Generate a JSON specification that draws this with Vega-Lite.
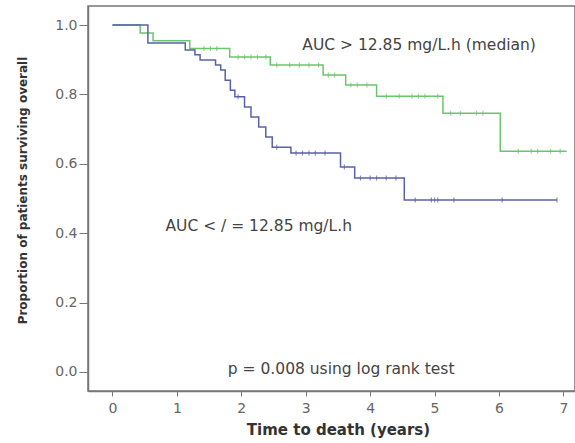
{
  "$schema": "https://vega.github.io/schema/vega-lite/v6.json",
  "autosize": {"type": "none"},
  "padding": {"left": 88, "top": 6, "right": 0, "bottom": 52},
  "width": 487,
  "height": 385,
  "background": "white",
  "config": {
    "view": {"stroke": "#777", "strokeWidth": 1.5},
    "font": "DejaVu Sans"
  },
  "datasets": {
    "curves": [
      {"group": "high", "t": 0, "s": 1.0},
      {"group": "high", "t": 0.43, "s": 0.977},
      {"group": "high", "t": 0.63, "s": 0.955},
      {"group": "high", "t": 1.2, "s": 0.932},
      {"group": "high", "t": 1.82, "s": 0.908},
      {"group": "high", "t": 2.45, "s": 0.885},
      {"group": "high", "t": 3.27, "s": 0.856},
      {"group": "high", "t": 3.62, "s": 0.827},
      {"group": "high", "t": 4.1, "s": 0.795},
      {"group": "high", "t": 5.13, "s": 0.746},
      {"group": "high", "t": 6.02, "s": 0.636},
      {"group": "high", "t": 7.05, "s": 0.636},
      {"group": "low", "t": 0, "s": 1.0},
      {"group": "low", "t": 0.55, "s": 0.948},
      {"group": "low", "t": 1.13, "s": 0.928},
      {"group": "low", "t": 1.28, "s": 0.914},
      {"group": "low", "t": 1.36, "s": 0.899},
      {"group": "low", "t": 1.6, "s": 0.885},
      {"group": "low", "t": 1.68, "s": 0.87},
      {"group": "low", "t": 1.75, "s": 0.841},
      {"group": "low", "t": 1.83, "s": 0.812},
      {"group": "low", "t": 1.9, "s": 0.793},
      {"group": "low", "t": 2.05, "s": 0.764},
      {"group": "low", "t": 2.15, "s": 0.735},
      {"group": "low", "t": 2.27, "s": 0.706},
      {"group": "low", "t": 2.38, "s": 0.677},
      {"group": "low", "t": 2.48, "s": 0.648},
      {"group": "low", "t": 2.77, "s": 0.631},
      {"group": "low", "t": 3.54, "s": 0.591},
      {"group": "low", "t": 3.76, "s": 0.559},
      {"group": "low", "t": 4.53, "s": 0.496},
      {"group": "low", "t": 6.9, "s": 0.496}
    ],
    "censor": [
      {"group": "high", "t": 1.42, "s": 0.932},
      {"group": "high", "t": 1.52, "s": 0.932},
      {"group": "high", "t": 1.62, "s": 0.932},
      {"group": "high", "t": 1.95, "s": 0.908},
      {"group": "high", "t": 2.05, "s": 0.908},
      {"group": "high", "t": 2.15, "s": 0.908},
      {"group": "high", "t": 2.25, "s": 0.908},
      {"group": "high", "t": 2.38, "s": 0.908},
      {"group": "high", "t": 2.55, "s": 0.885},
      {"group": "high", "t": 2.75, "s": 0.885},
      {"group": "high", "t": 2.9, "s": 0.885},
      {"group": "high", "t": 3.05, "s": 0.885},
      {"group": "high", "t": 3.2, "s": 0.885},
      {"group": "high", "t": 3.35, "s": 0.856},
      {"group": "high", "t": 3.45, "s": 0.856},
      {"group": "high", "t": 3.7, "s": 0.827},
      {"group": "high", "t": 3.8, "s": 0.827},
      {"group": "high", "t": 3.95, "s": 0.827},
      {"group": "high", "t": 4.25, "s": 0.795},
      {"group": "high", "t": 4.45, "s": 0.795},
      {"group": "high", "t": 4.65, "s": 0.795},
      {"group": "high", "t": 4.75, "s": 0.795},
      {"group": "high", "t": 4.85, "s": 0.795},
      {"group": "high", "t": 5.05, "s": 0.795},
      {"group": "high", "t": 5.25, "s": 0.746},
      {"group": "high", "t": 5.4, "s": 0.746},
      {"group": "high", "t": 5.65, "s": 0.746},
      {"group": "high", "t": 5.75, "s": 0.746},
      {"group": "high", "t": 6.3, "s": 0.636},
      {"group": "high", "t": 6.5, "s": 0.636},
      {"group": "high", "t": 6.6, "s": 0.636},
      {"group": "high", "t": 6.8, "s": 0.636},
      {"group": "high", "t": 6.95, "s": 0.636},
      {"group": "low", "t": 1.95, "s": 0.793},
      {"group": "low", "t": 2.55, "s": 0.648},
      {"group": "low", "t": 2.85, "s": 0.631},
      {"group": "low", "t": 2.95, "s": 0.631},
      {"group": "low", "t": 3.05, "s": 0.631},
      {"group": "low", "t": 3.15, "s": 0.631},
      {"group": "low", "t": 3.3, "s": 0.631},
      {"group": "low", "t": 3.6, "s": 0.591},
      {"group": "low", "t": 3.85, "s": 0.559},
      {"group": "low", "t": 4.0, "s": 0.559},
      {"group": "low", "t": 4.1, "s": 0.559},
      {"group": "low", "t": 4.25, "s": 0.559},
      {"group": "low", "t": 4.4, "s": 0.559},
      {"group": "low", "t": 4.7, "s": 0.496},
      {"group": "low", "t": 4.95, "s": 0.496},
      {"group": "low", "t": 5.0, "s": 0.496},
      {"group": "low", "t": 5.05, "s": 0.496},
      {"group": "low", "t": 5.3, "s": 0.496},
      {"group": "low", "t": 6.05, "s": 0.496},
      {"group": "low", "t": 6.9, "s": 0.496}
    ],
    "notes": [
      {"t": 4.76, "s": 0.942, "label": "AUC > 12.85 mg/L.h (median)"},
      {"t": 2.27, "s": 0.42, "label": "AUC < / = 12.85 mg/L.h"},
      {"t": 3.55, "s": 0.01, "label": "p = 0.008 using log rank test"}
    ]
  },
  "encoding": {
    "x": {
      "field": "t", "type": "quantitative",
      "scale": {"domain": [-0.38, 7.18], "nice": false, "zero": false},
      "axis": {
        "title": "Time to death (years)",
        "values": [0, 1, 2, 3, 4, 5, 6, 7],
        "grid": false,
        "domainColor": "#777", "domainWidth": 1.5,
        "tickColor": "#777", "tickSize": 5, "tickWidth": 1,
        "labelFontSize": 14, "labelColor": "#666", "labelPadding": 5,
        "titleFontSize": 15, "titleFontWeight": "bold", "titleColor": "#333", "titlePadding": 7,
        "titleX": 250
      }
    },
    "y": {
      "field": "s", "type": "quantitative",
      "scale": {"domain": [-0.0548, 1.0548], "nice": false, "zero": false},
      "axis": {
        "title": "Proportion of patients surviving overall",
        "values": [0, 0.2, 0.4, 0.6, 0.8, 1.0],
        "format": ".1f",
        "grid": false,
        "domainColor": "#777", "domainWidth": 1.5,
        "tickColor": "#777", "tickSize": 9, "tickWidth": 1,
        "labelFontSize": 14, "labelColor": "#666", "labelPadding": 2,
        "titleFontSize": 12, "titleFontWeight": "bold", "titleColor": "#333", "titlePadding": 25,
        "titleY": 184
      }
    }
  },
  "layer": [
    {
      "data": {"name": "curves"},
      "mark": {"type": "line", "interpolate": "step-after", "strokeWidth": 1.5},
      "encoding": {
        "color": {
          "field": "group", "type": "nominal",
          "scale": {"domain": ["high", "low"], "range": ["#6cc46c", "#5a60a8"]},
          "legend": null
        }
      }
    },
    {
      "data": {"name": "censor"},
      "mark": {"type": "tick", "orient": "vertical", "size": 5, "thickness": 1.2},
      "encoding": {
        "color": {
          "field": "group", "type": "nominal",
          "scale": {"domain": ["high", "low"], "range": ["#6cc46c", "#5a60a8"]},
          "legend": null
        }
      }
    },
    {
      "data": {"name": "notes"},
      "mark": {"type": "text", "fontSize": 15.5, "color": "#444", "align": "center", "baseline": "middle"},
      "encoding": {"text": {"field": "label", "type": "nominal"}}
    }
  ]
}
